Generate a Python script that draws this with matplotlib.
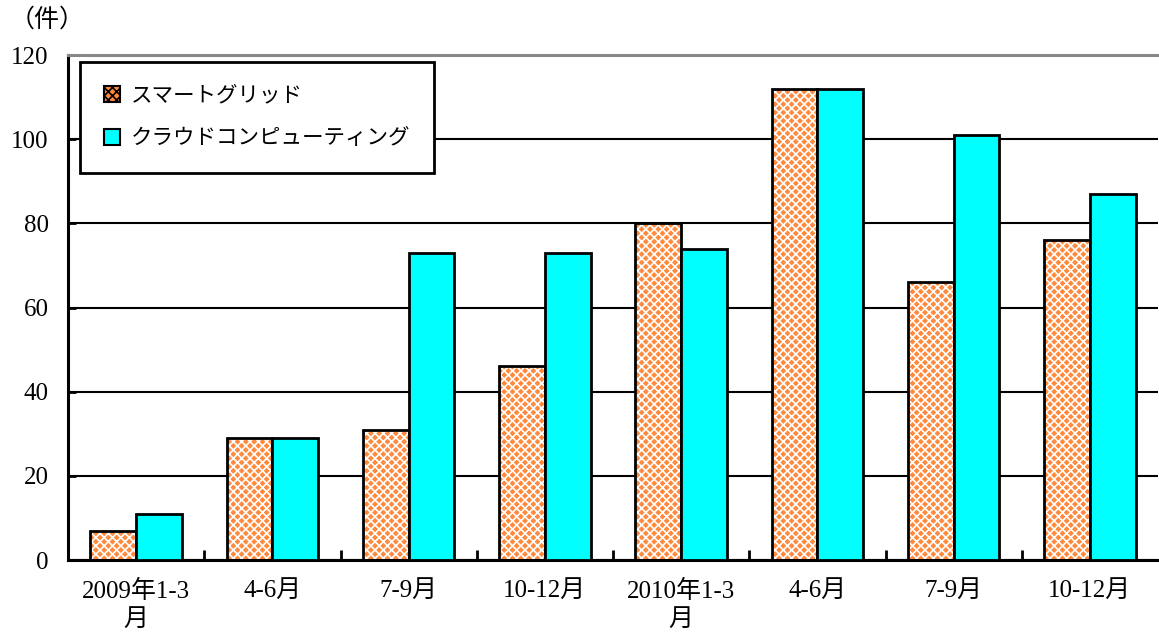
import numpy as np
import matplotlib.pyplot as plt
from matplotlib.patches import Patch

plt.rcParams['font.family'] = ['Liberation Serif', 'Noto Sans CJK JP']
plt.rcParams['hatch.linewidth'] = 1.2

quarters = ['2009年1-3\n月', '4-6月', '7-9月', '10-12月',
            '2010年1-3\n月', '4-6月', '7-9月', '10-12月']
smart_grid = [7, 29, 31, 46, 80, 112, 66, 76]
cloud = [11, 29, 73, 73, 74, 112, 101, 87]
series_names = ['スマートグリッド', 'クラウドコンピューティング']

orange = '#FF8A3D'
cyan = '#00FFFF'

fig = plt.figure(figsize=(11.59, 6.33), dpi=100)
ax = fig.add_axes([0.0587, 0.1153, 0.9405, 0.7978])

x = np.arange(len(quarters))
w = 0.336

# hatched fill first (white hatch), then black outline on top
ax.bar(x - w / 2, smart_grid, w, color=orange, hatch='xxxx',
       edgecolor='white', linewidth=0, zorder=2)
ax.bar(x - w / 2, smart_grid, w, fill=False, edgecolor='black',
       linewidth=2, zorder=3)
ax.bar(x + w / 2, cloud, w, color=cyan, edgecolor='black',
       linewidth=2, zorder=3)

ax.set_xlim(-0.5, len(quarters) - 0.5)
ax.set_ylim(0, 120)
ax.set_yticks(range(0, 121, 20))
ax.yaxis.grid(True, color='black', linewidth=1.5)
ax.set_axisbelow(True)

ax.set_xticks(x)
ax.set_xticklabels(quarters, fontsize=18, linespacing=1.35)
ax.tick_params(axis='x', which='major', length=0, pad=14)
ax.set_xticks(np.arange(0.5, len(quarters) - 0.5, 1), minor=True)
ax.tick_params(axis='x', which='minor', direction='in', length=7, width=2)
ax.tick_params(axis='y', direction='in', length=6, width=2, labelsize=18, pad=14)

for side in ['left', 'bottom']:
    ax.spines[side].set_linewidth(2.2)
ax.spines['right'].set_visible(False)
ax.spines['top'].set_color('#888888')
ax.spines['top'].set_linewidth(2.2)

fig.text(0.008, 0.988, '（件）', fontsize=18, va='top', ha='left')

handles = [Patch(facecolor=orange, hatch='xxxx', edgecolor='black', linewidth=1.5),
           Patch(facecolor=cyan, edgecolor='black', linewidth=1.5)]
leg = ax.legend(handles, series_names, loc='upper left',
                bbox_to_anchor=(0.011, 0.986), borderaxespad=0,
                fontsize=15.5, fancybox=False, framealpha=1, edgecolor='black',
                handlelength=0.75, handleheight=0.75, handletextpad=0.5,
                labelspacing=1.05, borderpad=1.1)
leg.get_frame().set_linewidth(2)

fig.savefig('out.png', dpi=100)
